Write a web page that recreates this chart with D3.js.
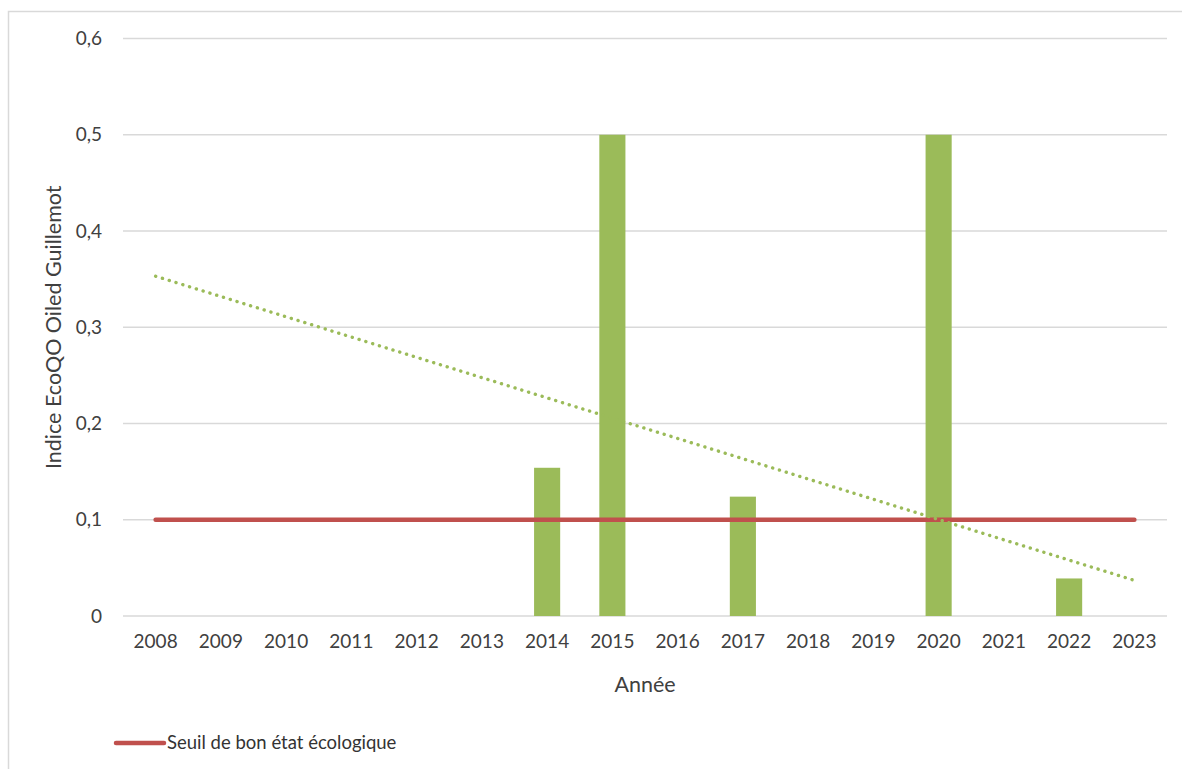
<!DOCTYPE html>
<html>
<head>
<meta charset="utf-8">
<script src="https://cdn.jsdelivr.net/npm/d3@7"></script>
<style>
  body { margin: 0; background: #fff; }
  svg { font-family: Lato, "Open Sans", sans-serif; }
</style>
</head>
<body>
<script>
// data
var years = ["2008","2009","2010","2011","2012","2013","2014","2015","2016","2017","2018","2019","2020","2021","2022","2023"];
var indexValues = [0, 0, 0, 0, 0, 0, 0.154, 0.5, 0, 0.124, 0, 0, 0.5, 0, 0.039, 0];
var threshold = 0.1;
var trendYears = ["2008", "2023"];
var trendValues = [0.353, 0.037];
var yTicks = [0, 0.1, 0.2, 0.3, 0.4, 0.5, 0.6];

var W = 1182, H = 769;
var margin = {top: 38.5, right: 15, bottom: 153, left: 123};
var width = W - margin.left - margin.right,
    height = H - margin.top - margin.bottom;

var svg = d3.select("body").append("svg")
    .attr("width", W)
    .attr("height", H);

// outer frame
svg.append("rect")
    .attr("x", 8.5).attr("y", 11.5)
    .attr("width", W + 10).attr("height", H + 10)
    .attr("fill", "none")
    .attr("stroke", "#d9d9d9")
    .attr("stroke-width", 1.5);

var g = svg.append("g")
    .attr("transform", "translate(" + margin.left + "," + margin.top + ")");

var x = d3.scaleBand().domain(years).range([0, width]).paddingInner(0.6).paddingOuter(0.3);
var xc = function(d) { return x(d) + x.bandwidth() / 2; };
var y = d3.scaleLinear().domain([0, 0.6]).range([height, 0]);

// gridlines
g.selectAll("line.grid")
    .data(yTicks)
    .enter().append("line")
    .attr("class", "grid")
    .attr("x1", 0).attr("x2", width)
    .attr("y1", function(d) { return y(d); })
    .attr("y2", function(d) { return y(d); })
    .attr("stroke", "#d9d9d9")
    .attr("stroke-width", 1.3);

// y axis
var yAxis = d3.axisLeft(y).tickValues(yTicks).tickSize(0).tickPadding(21)
    .tickFormat(function(d) { return d === 0 ? "0" : d3.format(".1f")(d).replace(".", ","); });
g.append("g").call(yAxis)
    .call(function(s) { s.select(".domain").remove(); })
    .selectAll("text")
    .attr("font-size", 19)
    .attr("font-family", "Lato, 'Open Sans', sans-serif")
    .attr("fill", "#404040");

// x axis
var xAxis = d3.axisBottom(x).tickSize(0).tickPadding(19);
g.append("g")
    .attr("transform", "translate(0," + height + ")")
    .call(xAxis)
    .call(function(s) { s.select(".domain").remove(); })
    .selectAll("text")
    .attr("font-size", 19)
    .attr("font-family", "Lato, 'Open Sans', sans-serif")
    .attr("fill", "#404040");

// bars
g.selectAll("rect.bar")
    .data(years.map(function(yr, i) { return {year: yr, v: indexValues[i]}; }).filter(function(d) { return d.v > 0; }))
    .enter().append("rect")
    .attr("class", "bar")
    .attr("x", function(d) { return x(d.year); })
    .attr("width", x.bandwidth())
    .attr("y", function(d) { return y(d.v); })
    .attr("height", function(d) { return height - y(d.v); })
    .attr("fill", "#9bbb59");

// threshold line
g.append("line")
    .attr("x1", xc(years[0])).attr("x2", xc(years[years.length - 1]))
    .attr("y1", y(threshold)).attr("y2", y(threshold))
    .attr("stroke", "#c0504d")
    .attr("stroke-width", 4.5)
    .attr("stroke-linecap", "round");

// trend line (dotted)
var trend = d3.line()
    .x(function(d) { return xc(d[0]); })
    .y(function(d) { return y(d[1]); });
g.append("path")
    .datum(trendYears.map(function(yr, i) { return [yr, trendValues[i]]; }))
    .attr("d", trend)
    .attr("fill", "none")
    .attr("stroke", "#9bbb59")
    .attr("stroke-width", 3.4)
    .attr("stroke-linecap", "round")
    .attr("stroke-dasharray", "0.1 7");

// axis titles
svg.append("text")
    .attr("x", margin.left + width / 2)
    .attr("y", 692)
    .attr("text-anchor", "middle")
    .attr("font-size", 21.5)
    .attr("fill", "#404040")
    .text("Année");

svg.append("text")
    .attr("transform", "translate(61," + (margin.top + height / 2) + ") rotate(-90)")
    .attr("text-anchor", "middle")
    .attr("font-size", 21.5)
    .attr("fill", "#404040")
    .text("Indice EcoQO Oiled Guillemot");

// legend
var lg = svg.append("g").attr("transform", "translate(116,743)");
lg.append("line")
    .attr("x1", 0).attr("x2", 48)
    .attr("stroke", "#c0504d")
    .attr("stroke-width", 4.5)
    .attr("stroke-linecap", "round");
lg.append("text")
    .attr("x", 51).attr("y", 6)
    .attr("font-size", 18.5)
    .attr("fill", "#333")
    .text("Seuil de bon état écologique");
</script>
</body>
</html>
